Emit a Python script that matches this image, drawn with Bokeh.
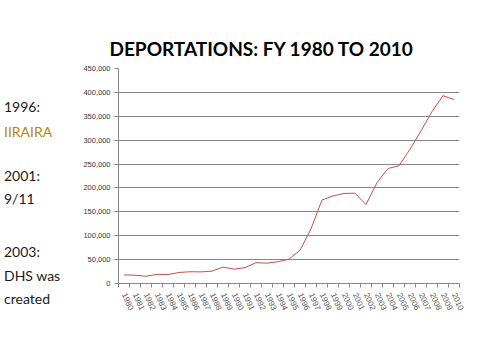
from bokeh.plotting import figure
from bokeh.models import FixedTicker, NumeralTickFormatter, Range1d, Div
from bokeh.layouts import row
from bokeh.embed import file_html
from bokeh.resources import INLINE

years = list(range(1980, 2011))
deportations = [18013, 17379, 15216, 19211, 18696, 23105, 24592, 24336, 25829, 34427,
                30039, 33189, 43671, 42542, 45674, 50924, 69680, 114432, 174813, 183114,
                188467, 189026, 165168, 211098, 240665, 246431, 280974, 319382, 359795,
                393000, 385000]
y_ticks = list(range(0, 450001, 50000))
title_text = "DEPORTATIONS:  FY 1980 TO 2010"
side_notes = ["1996:", "IIRAIRA", "2001:", "9/11", "2003:", "DHS was", "created"]
side_colors = ["#1a1a1a", "#B8860B", "#1a1a1a", "#1a1a1a", "#1a1a1a", "#1a1a1a", "#1a1a1a"]
side_y = [107, 132, 176, 199, 252, 276, 299]

DW = 70
W, H = 464 - DW, 344
ML, MR, MT, MB = 104 - DW, 15, 68, 61

p = figure(width=W, height=H, output_backend="svg", toolbar_location=None,
           x_range=Range1d(1979.5, 2010.5), y_range=Range1d(0, 450000),
           min_border_left=ML, min_border_right=MR, min_border_top=MT, min_border_bottom=MB)
p.outline_line_color = None
p.background_fill_color = "white"

p.title.text = title_text
p.title.text_font = "Lato"
p.title.text_font_style = "bold"
p.title.text_font_size = "19px"
p.title.text_color = "#000000"
p.title.align = "left"
p.title.offset = -9
p.title.standoff = 18

p.line(years, deportations, line_color="#C8504D", line_width=1.0)

p.xgrid.visible = False
p.ygrid.grid_line_color = "#868686"
p.ygrid.grid_line_width = 1
p.yaxis.ticker = FixedTicker(ticks=y_ticks)
p.yaxis.formatter = NumeralTickFormatter(format="0,0")
p.yaxis.axis_line_color = "#868686"
p.yaxis.major_tick_line_color = "#868686"
p.yaxis.major_tick_out = 4
p.yaxis.major_tick_in = 0
p.yaxis.minor_tick_line_color = None
p.yaxis.major_label_text_font = "Liberation Sans"
p.yaxis.major_label_text_font_size = "7.5px"
p.yaxis.major_label_text_color = "#333333"
p.yaxis.major_label_standoff = 4

p.xaxis.ticker = FixedTicker(ticks=years, minor_ticks=[y - 0.5 for y in years] + [2010.5])
p.xaxis.major_label_overrides = {y: str(y) for y in years}
p.xaxis.axis_line_color = "#868686"
p.xaxis.major_tick_line_color = None
p.xaxis.minor_tick_line_color = "#868686"
p.xaxis.minor_tick_out = 4
p.xaxis.minor_tick_in = 0
p.xaxis.major_label_orientation = -1.15
p.xaxis.major_label_text_font = "Liberation Sans"
p.xaxis.major_label_text_font_size = "8px"
p.xaxis.major_label_text_color = "#555555"
p.xaxis.major_label_standoff = 4

spans = []
for t, c, yy in zip(side_notes, side_colors, side_y):
    top = yy - 15
    spans.append(
        f'<div style="position:absolute;left:-1px;top:{top}px;font-family:Lato;'
        f'font-size:14px;line-height:20px;color:{c};white-space:nowrap;">{t}</div>'
    )
notes = Div(text="".join(spans), width=DW, height=H,
            styles={"position": "relative", "overflow": "visible"})

layout = row(notes, p, spacing=0)
open("out.html", "w").write(file_html(layout, INLINE))
